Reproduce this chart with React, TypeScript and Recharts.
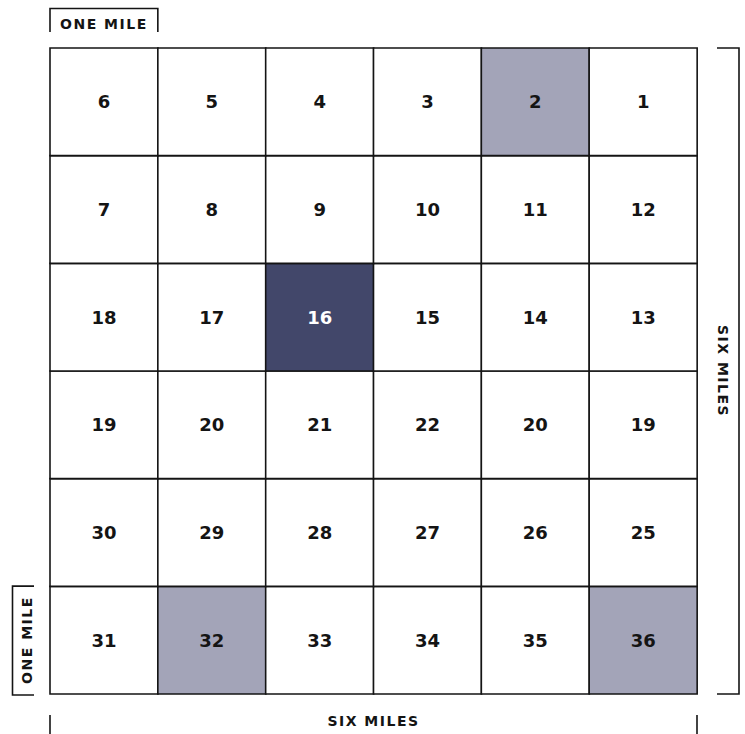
import { BarChart, Bar, Cell, XAxis, YAxis, LabelList } from 'recharts';

// township grid, top row first (north), numbered as printed
const sections: number[][] = [
  [6, 5, 4, 3, 2, 1],
  [7, 8, 9, 10, 11, 12],
  [18, 17, 16, 15, 14, 13],
  [19, 20, 21, 22, 20, 19],
  [30, 29, 28, 27, 26, 25],
  [31, 32, 33, 34, 35, 36],
];

const columns = ['c1', 'c2', 'c3', 'c4', 'c5', 'c6'];
const sectionSize = 1; // one mile per section

const darkSections = [16];
const lightSections = [2, 32, 36];

const scaleLabels = { oneMile: 'ONE MILE', sixMiles: 'SIX MILES' };

const W = 745;
const H = 734;
const margin = { top: 48, right: 48, bottom: 40, left: 50 };
const FONT = '"DejaVu Sans", sans-serif';
const INK = '#141414';

const rowCount = sections.length;
// stack layer k = 0 is the bottom row
const data = columns.map((col) => {
  const row: Record<string, string | number> = { col };
  for (let k = 0; k < rowCount; k++) row[`r${k}`] = sectionSize;
  return row;
});

const sectionAt = (k: number, ci: number) => sections[rowCount - 1 - k][ci];

const fillFor = (n: number) =>
  darkSections.includes(n) ? '#42476a' : lightSections.includes(n) ? '#a3a4b8' : '#ffffff';

export default function App() {
  const left = margin.left;
  const right = W - margin.right;
  const top = margin.top;
  const bottom = H - margin.bottom;
  const cell = (right - left) / columns.length;

  return (
    <div style={{ position: 'absolute', left: 0, top: 0, width: W, height: H, background: '#fff' }}>
      <BarChart width={W} height={H} data={data} margin={margin} barCategoryGap={0} barGap={0}>
        <XAxis dataKey="col" hide />
        <YAxis hide domain={[0, rowCount]} />
        {Array.from({ length: rowCount }, (_, k) => (
          <Bar
            key={k}
            dataKey={`r${k}`}
            stackId="grid"
            stroke={INK}
            strokeWidth={1.6}
            isAnimationActive={false}
          >
            {columns.map((c, ci) => (
              <Cell key={c} fill={fillFor(sectionAt(k, ci))} />
            ))}
            <LabelList
              dataKey={`r${k}`}
              content={(p: any) => {
                const n = sectionAt(k, p.index);
                return (
                  <text
                    x={p.x + p.width / 2}
                    y={p.y + p.height / 2}
                    textAnchor="middle"
                    dominantBaseline="central"
                    fontFamily={FONT}
                    fontWeight={700}
                    fontSize={18}
                    fill={darkSections.includes(n) ? '#ffffff' : INK}
                  >
                    {n}
                  </text>
                );
              }}
            />
          </Bar>
        ))}
      </BarChart>
      <svg
        width={W}
        height={H}
        style={{ position: 'absolute', left: 0, top: 0, pointerEvents: 'none' }}
      >
        <g fill="none" stroke={INK} strokeWidth={1.6}>
          <path d={`M${left},32 V8.5 H${left + cell} V32`} />
          <path d={`M34,${bottom - cell} H12.5 V${bottom + 1} H34`} />
          <path d={`M717,${top} H739 V${bottom} H717`} />
          <path d={`M${left},715 V734 M${right},715 V734`} />
        </g>
        <g fontFamily={FONT} fontWeight={700} fontSize={14} fill={INK} letterSpacing={1.5}>
          <text x={left + cell / 2} y={24} textAnchor="middle" dominantBaseline="central">
            {scaleLabels.oneMile}
          </text>
          <text
            x={0}
            y={0}
            textAnchor="middle"
            dominantBaseline="central"
            transform={`translate(27, ${bottom - cell / 2}) rotate(-90)`}
          >
            {scaleLabels.oneMile}
          </text>
          <text
            x={0}
            y={0}
            textAnchor="middle"
            dominantBaseline="central"
            transform={`translate(723, ${(top + bottom) / 2}) rotate(90)`}
          >
            {scaleLabels.sixMiles}
          </text>
          <text x={(left + right) / 2} y={721} textAnchor="middle" dominantBaseline="central">
            {scaleLabels.sixMiles}
          </text>
        </g>
      </svg>
    </div>
  );
}
